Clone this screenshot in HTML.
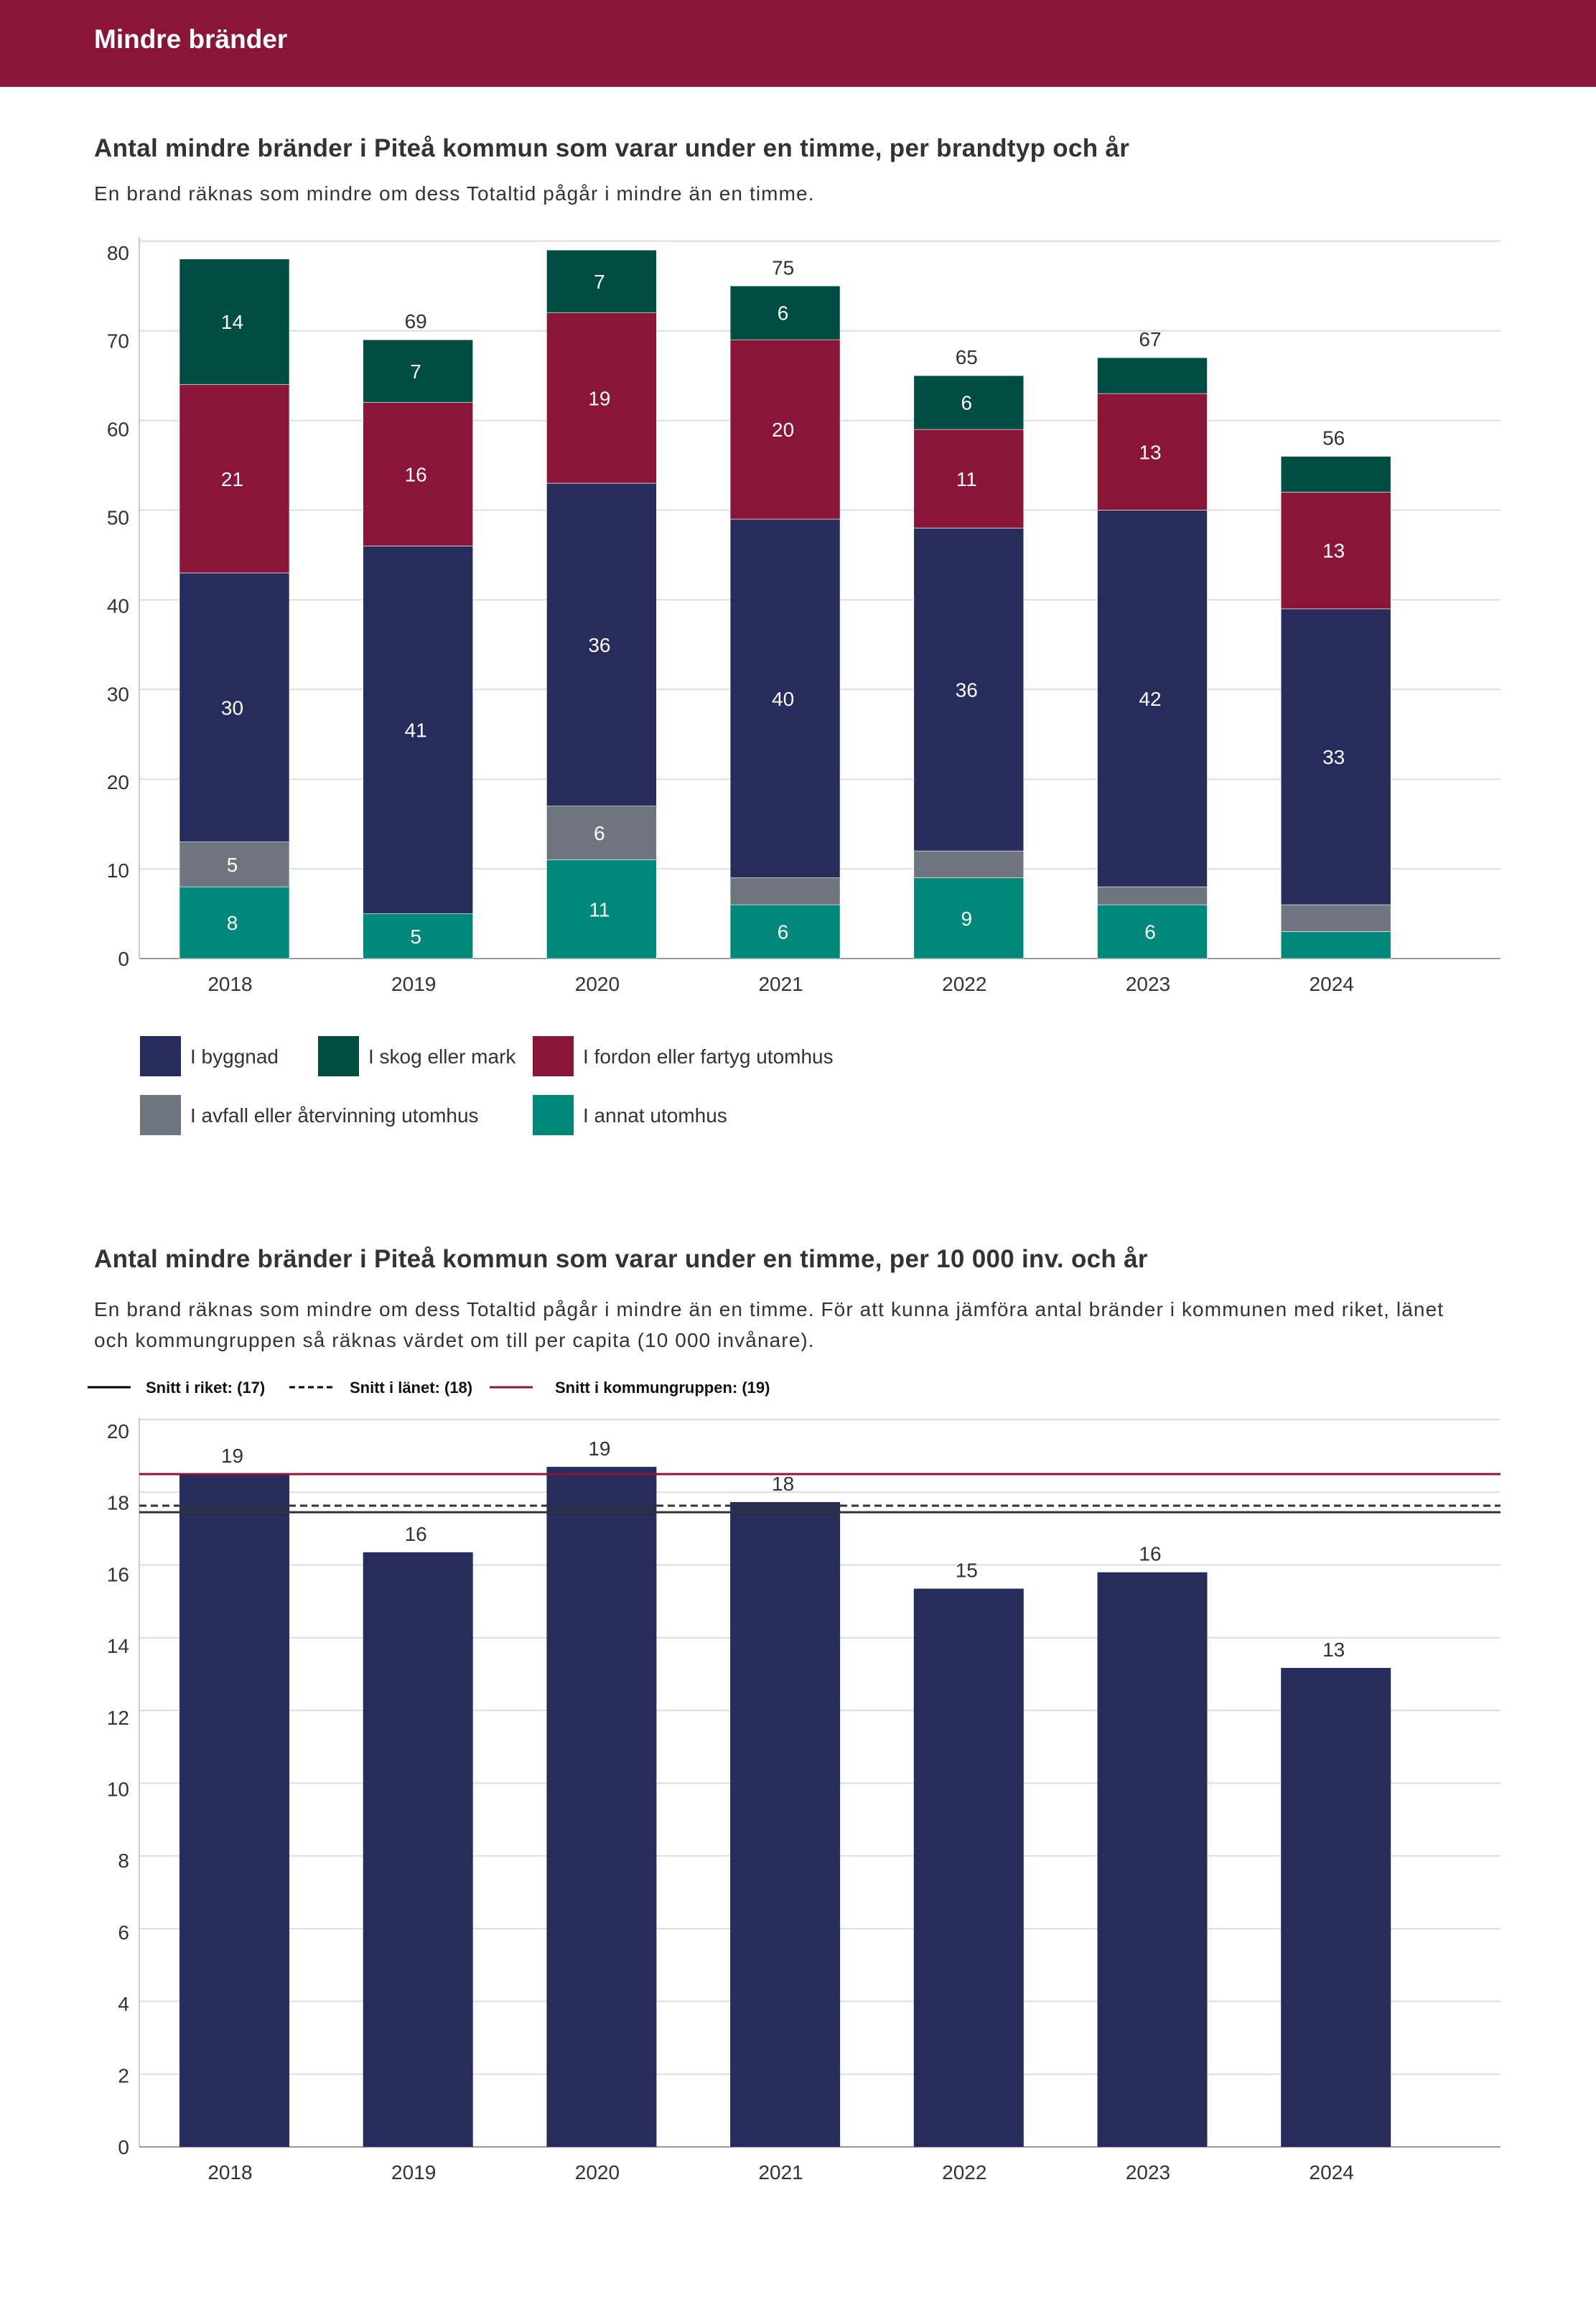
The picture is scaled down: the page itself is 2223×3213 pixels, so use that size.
<!DOCTYPE html>
<html><head><meta charset="utf-8">
<style>
body{margin:0;width:2223px;height:3213px;background:#fff;font-family:"Liberation Sans",sans-serif;color:#333;overflow:hidden;position:relative}
.hdr{position:absolute;left:0;top:0;width:2223px;height:121px;background:#8b1538}
.hdr span{position:absolute;left:131px;top:34px;color:#fff;font-weight:bold;font-size:37px}
.t{position:absolute;left:131px;font-weight:bold;font-size:35px;color:#333;letter-spacing:0.3px}
.s{position:absolute;left:131px;font-size:28px;color:#333;line-height:43px;letter-spacing:1.1px}
svg{position:absolute;left:0;top:0}
</style></head><body>
<div class="hdr"><span>Mindre bränder</span></div>
<div class="t" style="top:187px">Antal mindre bränder i Piteå kommun som varar under en timme, per brandtyp och år</div>
<div class="s" style="top:248px">En brand räknas som mindre om dess Totaltid pågår i mindre än en timme.</div>
<div class="t" style="top:1734px">Antal mindre bränder i Piteå kommun som varar under en timme, per 10 000 inv. och år</div>
<div class="s" style="top:1802px;width:1920px">En brand räknas som mindre om dess Totaltid pågår i mindre än en timme. För att kunna jämföra antal bränder i kommunen med riket, länet och kommungruppen så räknas värdet om till per capita (10 000 invånare).</div>
<svg id="c" width="2223" height="3213"></svg>
<script>
const years=["2018","2019","2020","2021","2022","2023","2024"];
const annat=[8,5,11,6,9,6,3];
const avfall=[5,0,6,3,3,2,3];
const byggnad=[30,41,36,40,36,42,33];
const fordon=[21,16,19,20,11,13,13];
const skog=[14,7,7,6,6,4,4];
const ticks1=[0,10,20,30,40,50,60,70,80];
const perCap=[18.5,16.35,18.7,17.73,15.35,15.8,13.17];
const perCapLabels=["19","16","19","18","15","16","13"];
const ticks2=[0,2,4,6,8,10,12,14,16,18,20];
const snittRiket=17.45, snittLan=17.63, snittGrupp=18.5;

const svg=document.getElementById('c');
const NS="http://www.w3.org/2000/svg";
function el(tag,attrs,parent){const e=document.createElementNS(NS,tag);for(const k in attrs)e.setAttribute(k,attrs[k]);(parent||svg).appendChild(e);return e;}
function txt(x,y,s,attrs){const e=el('text',Object.assign({x:x,y:y,'font-size':28,fill:'#333','text-anchor':'middle','font-family':'Liberation Sans, sans-serif'},attrs||{}));e.textContent=s;return e;}
const xL=194,xR=2090,step=255.7,bw=153,x0=250;
const xb=i=>x0+i*step;

// Chart 1
const y1=v=>1335-v*12.49;
ticks1.forEach(t=>{
  const g=el('line',{x1:xL,x2:xR,y1:y1(t),y2:y1(t),stroke:t===0?'#999':'#ddd','stroke-width':2});
  
  
  const l=txt(180,y1(t)+10+t*0.2,String(t),{'text-anchor':'end'});
  
  
});
el('line',{x1:xL,x2:xL,y1:330,y2:1335,stroke:'#ccc','stroke-width':2});
const series=[[annat,'#00897b','annat'],[avfall,'#6f757e','avfall'],[byggnad,'#262c5c','byggnad'],[fordon,'#8b1538','fordon'],[skog,'#004d43','skog']];
years.forEach((yr,i)=>{
  let acc=0;
  series.forEach(([arr,col,nm])=>{
    const v=arr[i]; if(!v){return;}
    const r=el('rect',{x:xb(i),y:y1(acc+v),width:bw,height:y1(acc)-y1(acc+v),fill:col,stroke:'#fff','stroke-width':0.6});
    
    
    if(v>=5){const l=txt(xb(i)+bw/2-3,(y1(acc)+y1(acc+v))/2+10,String(v),{fill:'#fff'});
      
      }
    acc+=v;
  });
  if(acc<=76){const l=txt(xb(i)+bw/2-3,y1(acc)-16,String(acc));
    
    }
  const xl=txt(xb(i)+bw/2-6,1380,yr);
  
  
});
// legend 1
const leg=[['I byggnad','#262c5c',195,1471],['I skog eller mark','#004d43',443,1471],['I fordon eller fartyg utomhus','#8b1538',742,1471],['I avfall eller återvinning utomhus','#6f757e',195,1553],['I annat utomhus','#00897b',742,1553]];
leg.forEach(([n,c,x,y])=>{
  const r=el('rect',{x:x,y:y-28,width:57,height:56,fill:c});
  
  
  const l=txt(x+70,y+10,n,{'text-anchor':'start'});
  
  
});

// Chart 2
const y2=v=>2990-v*50.65;
ticks2.forEach(t=>{
  const g=el('line',{x1:xL,x2:xR,y1:y2(t),y2:y2(t),stroke:t===0?'#999':'#ddd','stroke-width':2});
  
  
  const l=txt(180,y2(t)+10+t*0.8,String(t),{'text-anchor':'end'});
  
  
});
el('line',{x1:xL,x2:xL,y1:1975,y2:2990,stroke:'#ccc','stroke-width':2});
years.forEach((yr,i)=>{
  const r=el('rect',{x:xb(i),y:y2(perCap[i]),width:bw,height:y2(0)-y2(perCap[i]),fill:'#262c5c'});
  
  
  const l=txt(xb(i)+bw/2-3,y2(perCap[i])-16,perCapLabels[i]);
  
  
  const xl=txt(xb(i)+bw/2-6,3035,yr);
  
  
});
const a=el('line',{x1:xL,x2:xR,y1:y2(snittRiket),y2:y2(snittRiket),stroke:'#333','stroke-width':3});


const b=el('line',{x1:xL,x2:xR,y1:y2(snittLan),y2:y2(snittLan),stroke:'#333','stroke-width':3,'stroke-dasharray':'10,6'});


const c=el('line',{x1:xL,x2:xR,y1:y2(snittGrupp),y2:y2(snittGrupp),stroke:'#8b1538','stroke-width':3});


// legend 2
const leg2=[['Snitt i riket: (17)',122,203,'#000',''],['Snitt i länet: (18)',403,487,'#000','8,5'],['Snitt i kommungruppen: (19)',682,773,'#8b1538','']];
leg2.forEach(([n,x1,tx,col,d])=>{
  const ln=el('line',{x1:x1,x2:x1+60,y1:1932,y2:1932,stroke:col,'stroke-width':3,'stroke-dasharray':d||'none'});
  
  
  const l=txt(tx,1940,n,{'text-anchor':'start','font-size':22,'font-weight':'bold',fill:'#111'});
  
  
});
</script>
</body></html>
